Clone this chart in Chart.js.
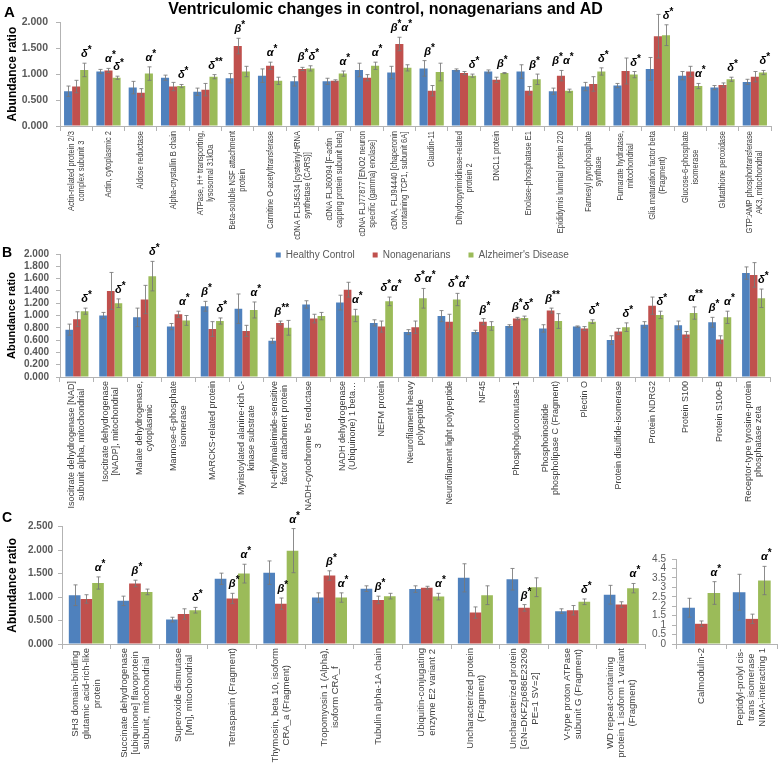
<!DOCTYPE html>
<html lang="en">
<head>
<meta charset="utf-8">
<title>Ventriculomic changes in control, nonagenarians and AD</title>
<script src="https://cdn.jsdelivr.net/npm/chart.js@4.4.1/dist/chart.umd.min.js"></script>
<style>
  body { margin: 0; background: #fff; }
  #lienzo { position: relative; width: 778px; height: 769px; overflow: hidden; font-family: "Liberation Sans", Arial, sans-serif; }
  #lienzo canvas { position: absolute; }
  .letra { position: absolute; font-weight: bold; color: #000; line-height: 1; }
</style>
</head>
<body>
<div id="lienzo">
  <canvas id="graficaA" width="778" height="250" style="left:0;top:0;width:778px;height:250px"></canvas>
  <canvas id="graficaB" width="778" height="280" style="left:0;top:232px;width:778px;height:280px"></canvas>
  <canvas id="graficaC" width="650" height="264" style="left:0;top:505px;width:650px;height:264px"></canvas>
  <canvas id="graficaC2" width="138" height="264" style="left:640px;top:505px;width:138px;height:264px"></canvas>
  <div class="letra" style="left:4px;top:4px;font-size:15px">A</div>
  <div class="letra" style="left:2px;top:245px;font-size:14px">B</div>
  <div class="letra" style="left:2px;top:510px;font-size:14px">C</div>
</div>
<script>
// ---- Panel A ----
const etiquetasA = [
  ["Actin-related protein 2/3", "complex subunit 3"],
  ["Actin, cytoplasmic 2"],
  ["Aldose reductase"],
  ["Alpha-crystallin B chain"],
  ["ATPase, H+ transporting,", "lysosomal 31kDa"],
  ["Beta-soluble NSF attachment", "protein"],
  ["Carnitine O-acetyltransferase"],
  ["cDNA FLJ54534 [cysteinyl-tRNA", "synthetase (CARS)]"],
  ["cDNA FLJ60094 [F-actin", "capping protein subunit beta]"],
  ["cDNA FLJ77877 [ENO2 neuron", "specific (gamma) enolase]"],
  ["cDNA, FLJ94440 [chaperonin", "containing TCP1, subunit 6A]"],
  ["Claudin-11"],
  ["Dihydropyrimidinase-related", "protein 2"],
  ["DNCL1 protein"],
  ["Enolase-phosphatase E1"],
  ["Epididymis luminal protein 220"],
  ["Farnesyl pyrophosphate", "synthase"],
  ["Fumarate hydratase,", "mitochondrial"],
  ["Glia maturation factor beta", "(Fragment)"],
  ["Glucose-6-phosphate", "isomerase"],
  ["Glutathione peroxidase"],
  ["GTP:AMP phosphotransferase", "AK3, mitochondrial"]
];
const controlA = [0.67, 1.05, 0.74, 0.93, 0.66, 0.92, 0.97, 0.86, 0.86, 1.08, 1.03, 1.11, 1.08, 1.05, 1.05, 0.67, 0.76, 0.78, 1.10, 0.97, 0.74, 0.85];
const nonaA = [0.76, 1.07, 0.64, 0.76, 0.70, 1.54, 1.16, 1.10, 0.87, 0.93, 1.58, 0.68, 1.02, 0.89, 0.68, 0.97, 0.81, 1.06, 1.73, 1.05, 0.79, 0.95];
const alzA = [1.08, 0.93, 1.01, 0.77, 0.95, 1.05, 0.87, 1.11, 1.01, 1.16, 1.12, 1.04, 0.97, 1.02, 0.90, 0.68, 1.05, 0.99, 1.75, 0.77, 0.90, 1.03];
const errControlA = [0.10, 0.04, 0.12, 0.05, 0.07, 0.09, 0.13, 0.09, 0.06, 0.13, 0.12, 0.15, 0.02, 0.03, 0.13, 0.06, 0.08, 0.04, 0.22, 0.08, 0.04, 0.05];
const errNonaA = [0.12, 0.04, 0.08, 0.08, 0.12, 0.15, 0.07, 0.03, 0.02, 0.06, 0.13, 0.10, 0.03, 0.05, 0.08, 0.10, 0.14, 0.25, 0.42, 0.10, 0.04, 0.10];
const errAlzA = [0.13, 0.03, 0.13, 0.03, 0.04, 0.10, 0.07, 0.05, 0.05, 0.07, 0.06, 0.17, 0.03, 0.01, 0.10, 0.03, 0.07, 0.06, 0.20, 0.05, 0.04, 0.04];
// [texto, serie sobre la que va] por categoria
const marcasA = [
  [["δ*", 2]], [["α*", 1], ["δ*", 2]], [["α*", 2]], [["δ*", 2]], [["δ**", 2]], [["β*", 1]],
  [["α*", 1]], [["β*δ*", 1.5]], [["α*", 2]], [["α*", 2]], [["β*α*", 1]], [["β*", 0.5]],
  [["δ*", 2]], [["β*", 1.5]], [["β*", 1.5]], [["β*α*", 1]], [["δ*", 2]], [["δ*", 2]],
  [["δ*", 2]], [["α*", 2]], [["δ*", 2]], [["δ*", 2]]
];
const ticksA = [0, 0.5, 1, 1.5, 2];

// ---- Panel B ----
const etiquetasB = [
  ["Isocitrate dehydrogenase [NAD]", "subunit alpha, mitochondrial"],
  ["Isocitrate dehydrogenase", "[NADP], mitochondrial"],
  ["Malate dehydrogenase,", "cytoplasmic"],
  ["Mannose-6-phosphate", "isomerase"],
  ["MARCKS-related protein"],
  ["Myristoylated alanine-rich C-", "kinase substrate"],
  ["N-ethylmaleimide-sensitive", "factor attachment protein"],
  ["NADH-cytochrome b5 reductase", "3"],
  ["NADH dehydrogenase", "(Ubiquinone) 1 beta…"],
  ["NEFM protein"],
  ["Neurofilament heavy", "polypeptide"],
  ["Neurofilament light polypeptide"],
  ["NF45"],
  ["Phosphoglucomutase-1"],
  ["Phosphoinositide", "phospholipase C (Fragment)"],
  ["Plectin O"],
  ["Protein disulfide-isomerase"],
  ["Protein NDRG2"],
  ["Protein S100"],
  ["Protein S100-B"],
  ["Receptor-type tyrosine-protein", "phosphatase zeta"]
];
const controlB = [0.77, 1.00, 0.97, 0.82, 1.15, 1.11, 0.59, 1.18, 1.21, 0.88, 0.73, 0.99, 0.73, 0.83, 0.79, 0.82, 0.60, 0.85, 0.84, 0.89, 1.69];
const nonaB = [0.94, 1.40, 1.26, 1.02, 0.78, 0.75, 0.88, 0.95, 1.42, 0.82, 0.81, 0.90, 0.90, 0.95, 1.08, 0.79, 0.74, 1.16, 0.69, 0.61, 1.66];
const alzB = [1.07, 1.20, 1.64, 0.92, 0.91, 1.09, 0.80, 0.99, 1.00, 1.23, 1.28, 1.26, 0.83, 0.96, 0.91, 0.90, 0.81, 1.01, 1.04, 0.97, 1.28];
const errControlB = [0.09, 0.05, 0.15, 0.05, 0.08, 0.24, 0.04, 0.06, 0.12, 0.05, 0.04, 0.09, 0.03, 0.02, 0.06, 0.01, 0.07, 0.05, 0.07, 0.08, 0.10];
const errNonaB = [0.12, 0.30, 0.23, 0.05, 0.12, 0.09, 0.03, 0.07, 0.12, 0.09, 0.10, 0.12, 0.05, 0.02, 0.04, 0.03, 0.05, 0.14, 0.05, 0.06, 0.20];
const errAlzB = [0.05, 0.07, 0.24, 0.08, 0.05, 0.13, 0.12, 0.06, 0.10, 0.07, 0.16, 0.10, 0.07, 0.03, 0.12, 0.03, 0.07, 0.06, 0.10, 0.10, 0.15];
const marcasB = [
  [["δ*", 2]], [["δ*", 2]], [["δ*", 2]], [["α*", 1.5]], [["β*", 0], ["δ*", 2]], [["α*", 2]],
  [["β**", 1]], [], [["α*", 2]], [["δ*α*", 2]], [["δ*α*", 2]], [["δ*α*", 2]],
  [["β*", 1]], [["β*δ*", 1.5]], [["β**", 1]], [["δ*", 2]], [["δ*", 2]], [["δ*", 2]],
  [["α**", 2]], [["β*", 0], ["α*", 2]], [["δ*", 2]]
];
const ticksB = [0, 0.2, 0.4, 0.6, 0.8, 1, 1.2, 1.4, 1.6, 1.8, 2];

// ---- Panel C ----
const etiquetasC = [
  ["SH3 domain-binding", "glutamic acid-rich-like", "protein"],
  ["Succinate dehydrogenase", "[ubiquinone] flavoprotein", "subunit, mitochondrial"],
  ["Superoxide dismutase", "[Mn], mitochondrial"],
  ["Tetraspanin (Fragment)"],
  ["Thymosin, beta 10, isoform", "CRA_a (Fragment)"],
  ["Tropomyosin 1 (Alpha),", "isoform CRA_f"],
  ["Tubulin alpha-1A chain"],
  ["Ubiquitin-conjugating", "enzyme E2 variant 2"],
  ["Uncharacterized protein", "(Fragment)"],
  ["Uncharacterized protein", "[GN=DKFZp686E23209", "PE=1 SV=2]"],
  ["V-type proton ATPase", "subunit G (Fragment)"],
  ["WD repeat-containing", "protein 1 isoform 1 variant", "(Fragment)"]
];
const controlC = [1.04, 0.92, 0.52, 1.39, 1.52, 0.99, 1.18, 1.17, 1.41, 1.38, 0.70, 1.05];
const nonaC = [0.96, 1.29, 0.64, 0.97, 0.86, 1.46, 0.94, 1.20, 0.67, 0.77, 0.72, 0.84];
const alzC = [1.30, 1.11, 0.72, 1.50, 1.99, 0.99, 1.02, 1.01, 1.04, 1.21, 0.90, 1.19];
const errControlC = [0.22, 0.10, 0.05, 0.12, 0.25, 0.10, 0.06, 0.07, 0.30, 0.23, 0.05, 0.20];
const errNonaC = [0.09, 0.07, 0.11, 0.11, 0.12, 0.10, 0.08, 0.03, 0.12, 0.07, 0.10, 0.06];
const errAlzC = [0.13, 0.06, 0.06, 0.20, 0.47, 0.10, 0.06, 0.07, 0.20, 0.20, 0.06, 0.10];
const marcasC = [
  [["α*", 2]], [["β*", 1]], [["δ*", 2]], [["β*", 1], ["α*", 2]], [["β*", 1], ["α*", 2]], [["β*", 1], ["α*", 2]],
  [["β*", 1]], [["α*", 2]], [], [["β*", 1]], [["δ*", 2]], [["α*", 2]]
];
const ticksC = [0, 0.5, 1, 1.5, 2, 2.5];

// panel C, escala aparte
const etiquetasC2 = [
  ["Calmodulin-2"],
  ["Peptidyl-prolyl cis-", "trans isomerase", "NIMA-interacting 1"]
];
const controlC2 = [1.92, 2.74];
const nonaC2 = [1.07, 1.33];
const alzC2 = [2.70, 3.36];
const errControlC2 = [0.50, 0.95];
const errNonaC2 = [0.15, 0.25];
const errAlzC2 = [0.60, 0.75];
const marcasC2 = [[["α*", 2]], [["α*", 2]]];
const ticksC2 = [0, 0.5, 1, 1.5, 2, 2.5, 3, 3.5, 4, 4.5];

const series = ["Healthy Control", "Nonagenarians", "Alzheimer's Disease"];
const colores = ["#4F81BD", "#C0504D", "#9BBB59"];
const GRIS_EJE = "#b3b3b3";
const FUENTE = '"Liberation Sans", Arial, sans-serif';

Chart.defaults.font.family = FUENTE;

// barras de error (+/-) encima de cada barra
const barrasError = {
  id: "barrasError",
  afterDatasetsDraw(chart) {
    const ctx = chart.ctx;
    const y = chart.scales.y;
    ctx.save();
    ctx.strokeStyle = "rgba(120,120,120,0.85)";
    ctx.lineWidth = 1;
    chart.data.datasets.forEach((ds, i) => {
      chart.getDatasetMeta(i).data.forEach((bar, j) => {
        const v = ds.data[j];
        const e = ds.errores[j];
        const x = Math.round(bar.x) + 0.5;
        const arriba = y.getPixelForValue(v + e);
        const abajo = y.getPixelForValue(v - e);
        ctx.beginPath();
        ctx.moveTo(x, arriba);
        ctx.lineTo(x, abajo);
        ctx.moveTo(x - 2, arriba);
        ctx.lineTo(x + 2, arriba);
        ctx.moveTo(x - 2, abajo);
        ctx.lineTo(x + 2, abajo);
        ctx.stroke();
      });
    });
    ctx.restore();
  }
};

function dibujarMarca(ctx, texto, x, base) {
  const fGriega = "italic bold 11px " + FUENTE;
  const fAsterisco = "bold 10px " + FUENTE;
  const trozos = [...texto].map((c) => ({ c, f: c === "*" ? fAsterisco : fGriega }));
  let total = 0;
  trozos.forEach((t) => {
    ctx.font = t.f;
    t.w = ctx.measureText(t.c).width;
    total += t.w;
  });
  let px = x - total / 2;
  trozos.forEach((t) => {
    ctx.font = t.f;
    ctx.fillText(t.c, px, t.c === "*" ? base - 4 : base);
    px += t.w;
  });
}

// simbolos de significancia (alfa, beta, delta)
const marcasSignif = {
  id: "marcasSignif",
  afterDatasetsDraw(chart, args, opts) {
    const marcas = opts.marcas;
    if (!marcas) return;
    const ctx = chart.ctx;
    const y = chart.scales.y;
    const ds = chart.data.datasets;
    ctx.save();
    ctx.fillStyle = "#000";
    ctx.textAlign = "left";
    ctx.textBaseline = "alphabetic";
    marcas.forEach((lista, j) => {
      lista.forEach(([texto, s]) => {
        const a = Math.floor(s);
        const b = Math.ceil(s);
        const xa = chart.getDatasetMeta(a).data[j].x;
        const xb = chart.getDatasetMeta(b).data[j].x;
        const x = xa + (xb - xa) * (s - a) + 2;
        const tope = Math.max(ds[a].data[j] + ds[a].errores[j], ds[b].data[j] + ds[b].errores[j]);
        dibujarMarca(ctx, texto, x, y.getPixelForValue(tope) - 6);
      });
    });
    ctx.restore();
  }
};

// etiquetas del eje x giradas, lineas centradas como en Excel
const etiquetasRotadas = {
  id: "etiquetasRotadas",
  afterDraw(chart, args, opts) {
    const ctx = chart.ctx;
    const x = chart.scales.x;
    ctx.save();
    ctx.font = opts.fuente;
    ctx.fillStyle = "#404040";
    ctx.textAlign = "center";
    ctx.textBaseline = "middle";
    chart.data.labels.forEach((lineas, i) => {
      const px = x.getPixelForValue(i);
      const ancho = Math.max(...lineas.map((l) => ctx.measureText(l).width));
      ctx.save();
      ctx.translate(px, x.top + opts.separacion);
      ctx.rotate(-Math.PI / 2);
      ctx.scale(opts.estrecho, 1);
      lineas.forEach((l, k) => {
        ctx.fillText(l, -ancho / 2, (k - (lineas.length - 1) / 2) * opts.interlinea);
      });
      ctx.restore();
    });
    ctx.restore();
  }
};

// leyenda dentro del area del grafico (panel B)
const leyendaExcel = {
  id: "leyendaExcel",
  afterDraw(chart, args, opts) {
    if (!opts.mostrar) return;
    const ctx = chart.ctx;
    const area = chart.chartArea;
    ctx.save();
    ctx.font = "10px " + FUENTE;
    ctx.textBaseline = "middle";
    ctx.textAlign = "left";
    const items = chart.data.datasets.map((d) => ({ texto: d.label, color: d.backgroundColor, w: ctx.measureText(d.label).width }));
    const total = items.reduce((s, it) => s + 10 + it.w, 0) + 18 * (items.length - 1);
    let px = (area.left + area.right) / 2 + opts.desplazar - total / 2;
    const py = area.top + opts.dy;
    items.forEach((it) => {
      ctx.fillStyle = it.color;
      ctx.fillRect(px, py - 2.5, 5, 5);
      ctx.fillStyle = "#595959";
      ctx.fillText(it.texto, px + 10, py);
      px += 10 + it.w + 18;
    });
    ctx.restore();
  }
};

function crearGrafica(id, cfg) {
  const datasets = series.map((nombre, i) => ({
    label: nombre,
    data: cfg.valores[i],
    errores: cfg.errores[i],
    backgroundColor: colores[i],
    borderWidth: 0
  }));
  return new Chart(document.getElementById(id), {
    type: "bar",
    data: { labels: cfg.etiquetas, datasets: datasets },
    plugins: [barrasError, marcasSignif, etiquetasRotadas, leyendaExcel],
    options: {
      responsive: false,
      animation: false,
      events: [],
      layout: { padding: cfg.relleno },
      datasets: { bar: { categoryPercentage: cfg.porcCategoria, barPercentage: 1 } },
      plugins: {
        legend: { display: false },
        tooltip: { enabled: false },
        title: cfg.titulo
          ? { display: true, text: cfg.titulo, color: "#000", font: { size: 16, weight: "bold" }, padding: { top: 0, bottom: 3 } }
          : { display: false },
        marcasSignif: { marcas: cfg.marcas },
        etiquetasRotadas: cfg.rotulos,
        leyendaExcel: { mostrar: !!cfg.leyenda, desplazar: 7, dy: 1 }
      },
      scales: {
        x: {
          offset: true,
          grid: { offset: true, drawOnChartArea: false, tickLength: 5, color: GRIS_EJE },
          border: { color: GRIS_EJE },
          ticks: { display: false },
          afterFit: (s) => { s.height = cfg.altoEjeX; }
        },
        y: {
          min: 0,
          max: cfg.marcasY[cfg.marcasY.length - 1],
          afterBuildTicks: (s) => { s.ticks = cfg.marcasY.map((v) => ({ value: v })); },
          ticks: {
            autoSkip: false,
            callback: cfg.formato,
            color: "#595959",
            font: cfg.fuenteY,
            padding: cfg.sepTicks
          },
          grid: { drawOnChartArea: false, tickLength: 4, color: GRIS_EJE },
          border: { color: GRIS_EJE },
          title: cfg.tituloY
            ? { display: true, text: "Abundance ratio", color: "#000", font: { size: cfg.tituloY, weight: "bold" }, padding: { top: 5, bottom: 0 } }
            : { display: false },
          afterFit: (s) => { s.width = cfg.anchoEjeY; }
        }
      }
    }
  });
}

const tresDecimales = (v) => Number(v).toFixed(3);

crearGrafica("graficaA", {
  etiquetas: etiquetasA,
  valores: [controlA, nonaA, alzA],
  errores: [errControlA, errNonaA, errAlzA],
  marcas: marcasA,
  marcasY: ticksA,
  formato: tresDecimales,
  fuenteY: { size: 10.5, weight: "bold" },
  sepTicks: 8,
  titulo: "Ventriculomic changes in control, nonagenarians and AD",
  tituloY: 12,
  relleno: { top: 0, left: 0, right: 7, bottom: 0 },
  anchoEjeY: 60,
  altoEjeX: 124,
  porcCategoria: 0.75,
  rotulos: { fuente: "9.2px " + FUENTE, estrecho: 0.82, interlinea: 10, separacion: 5 }
});

crearGrafica("graficaB", {
  etiquetas: etiquetasB,
  valores: [controlB, nonaB, alzB],
  errores: [errControlB, errNonaB, errAlzB],
  marcas: marcasB,
  marcasY: ticksB,
  formato: tresDecimales,
  fuenteY: { size: 10, weight: "bold" },
  sepTicks: 7,
  tituloY: 11,
  leyenda: true,
  relleno: { top: 22, left: 0, right: 7.5, bottom: 0 },
  anchoEjeY: 60,
  altoEjeX: 135,
  porcCategoria: 0.68,
  rotulos: { fuente: "9px " + FUENTE, estrecho: 1, interlinea: 10, separacion: 4 }
});

crearGrafica("graficaC", {
  etiquetas: etiquetasC,
  valores: [controlC, nonaC, alzC],
  errores: [errControlC, errNonaC, errAlzC],
  marcas: marcasC,
  marcasY: ticksC,
  formato: tresDecimales,
  fuenteY: { size: 10, weight: "bold" },
  sepTicks: 5,
  tituloY: 12,
  relleno: { top: 21.7, left: 0, right: 4.4, bottom: 0 },
  anchoEjeY: 62,
  altoEjeX: 125,
  porcCategoria: 0.72,
  rotulos: { fuente: "9.5px " + FUENTE, estrecho: 1, interlinea: 11, separacion: 4 }
});

crearGrafica("graficaC2", {
  etiquetas: etiquetasC2,
  valores: [controlC2, nonaC2, alzC2],
  errores: [errControlC2, errNonaC2, errAlzC2],
  marcas: marcasC2,
  marcasY: ticksC2,
  formato: (v) => String(v),
  fuenteY: { size: 10 },
  sepTicks: 6,
  tituloY: 0,
  relleno: { top: 54, left: 0, right: 1, bottom: 0 },
  anchoEjeY: 36,
  altoEjeX: 125,
  porcCategoria: 0.75,
  rotulos: { fuente: "9.5px " + FUENTE, estrecho: 1, interlinea: 11, separacion: 4 }
});
</script>
</body>
</html>
